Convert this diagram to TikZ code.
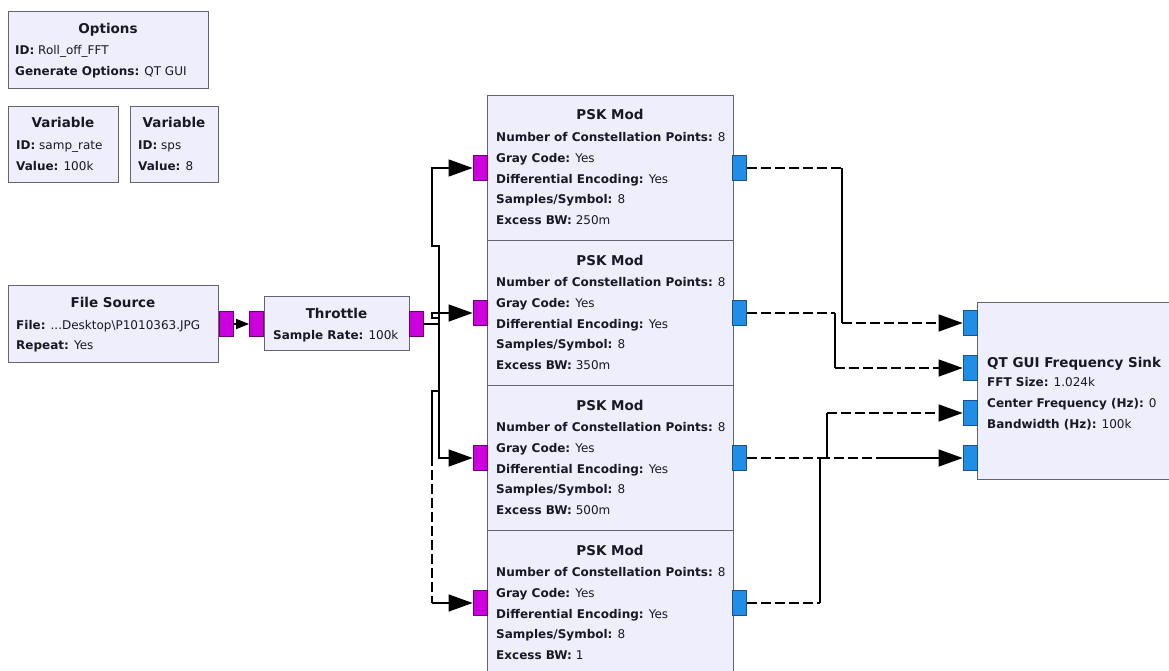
\documentclass[tikz,border=0pt]{standalone}
\usepackage{fontspec}
\setmainfont{DejaVu Sans}
\usetikzlibrary{arrows.meta}
\definecolor{blkfill}{RGB}{238,238,252}
\definecolor{blkdraw}{RGB}{100,100,110}
\definecolor{mag}{RGB}{204,0,222}
\definecolor{magd}{RGB}{110,0,120}
\definecolor{blu}{RGB}{32,142,230}
\definecolor{blud}{RGB}{30,80,140}
\definecolor{txt}{RGB}{25,25,35}
\newcommand{\plines}[1]{\begin{tabular}[t]{@{}l@{}}#1\end{tabular}}
\tikzset{
 blk/.style={draw=blkdraw, fill=blkfill, line width=1.1pt, inner sep=0, anchor=north west},
 ttl/.style={font=\fontsize{13.5}{16}\selectfont\bfseries, text=txt, anchor=base, inner sep=0},
 prm/.style={font=\fontsize{12}{20.8}\selectfont, text=txt, anchor=base west, inner sep=0},
 mport/.style={draw=magd, fill=mag, minimum width=14, minimum height=25, inner sep=0, line width=0.8pt},
 bport/.style={draw=blud, fill=blu, minimum width=14, minimum height=25, inner sep=0, line width=0.8pt},
 wire/.style={line width=1.2pt, black},
 dwire/.style={wire, dash pattern=on 10pt off 4pt},
 arr/.style={-{Triangle[length=24pt,width=17pt]}},
}
\begin{document}
\begin{tikzpicture}[x=1pt,y=-1pt]
\useasboundingbox (0,0) rectangle (1169,671);
\fill[white] (0,0) rectangle (1169,671);

% Options and variables
\node[blk, minimum width=200, minimum height=77] (opt) at (8,11) {};
\node[ttl] (optt) at (108,34) {Options};
\node[prm] (optp) at (15,55) {\plines{\textbf{ID:} Roll\_off\_FFT\\\textbf{Generate Options:} QT GUI}};

\node[blk, minimum width=110, minimum height=76] (v1) at (8,106) {};
\node[ttl] (v1t) at (63,128) {Variable};
\node[prm] (v1p) at (16,150) {\plines{\textbf{ID:} samp\_rate\\\textbf{Value:} 100k}};

\node[blk, minimum width=88, minimum height=76] (v2) at (130,106) {};
\node[ttl] (v2t) at (174,128) {Variable};
\node[prm] (v2p) at (138,150) {\plines{\textbf{ID:} sps\\\textbf{Value:} 8}};

% File source
\node[blk, minimum width=210, minimum height=77] (fs) at (8,285) {};
\node[ttl] (fst) at (113,307) {File Source};
\node[prm] (fsp) at (16,329) {\plines{\textbf{File:} ...Desktop\textbackslash P1010363.JPG\\\textbf{Repeat:} Yes}};
\node[mport] (fso) at (226,324) {};

% Throttle
\node[blk, minimum width=145, minimum height=54] (th) at (264,296) {};
\node[ttl] (tht) at (336.5,318) {Throttle};
\node[prm] (thp) at (273,339) {\textbf{Sample Rate:} 100k};
\node[mport] (thi) at (256.5,324) {};
\node[mport] (tho) at (416,324) {};

% PSK Mod blocks
\foreach \i/\bw/\h in {1/250m/145, 2/350m/145, 3/500m/145, 4/1/150} {
 \pgfmathsetmacro{\T}{95+145*(\i-1)}
 \node[blk, minimum width=246, minimum height=\h] (psk\i) at (487,\T) {};
 \node[ttl] (psk\i t) at (610,\T+25) {PSK Mod};
 \node[prm] (psk\i p) at (496,\T+46.5) {\plines{\textbf{Number of Constellation Points:} 8\\\textbf{Gray Code:} Yes\\\textbf{Differential Encoding:} Yes\\\textbf{Samples/Symbol:} 8\\\textbf{Excess BW:} \bw}};
 \node[mport] (p\i i) at (480,\T+73) {};
 \node[bport] (p\i o) at (739.5,\T+73) {};
}

% Sink
\node[blk, minimum width=200, minimum height=177] (sink) at (977,302) {};
\node[ttl, anchor=base west] (sinkt) at (987,367) {QT GUI Frequency Sink};
\node[prm, font=\fontsize{12}{21}\selectfont] (sinkp) at (987,386.5) {\plines{\textbf{FFT Size:} 1.024k\\\textbf{Center Frequency (Hz):} 0\\\textbf{Bandwidth (Hz):} 100k}};
\node[bport] (s1) at (970,323) {};
\node[bport] (s2) at (970,368) {};
\node[bport] (s3) at (970,413) {};
\node[bport] (s4) at (970,458) {};

% File source -> throttle
\draw[wire, -{Triangle[length=13pt,width=10pt]}] (fso.east) -- (thi.west);

% Throttle -> PSK mods
\coordinate (la) at (439,246);
\coordinate (lb) at (432,168);
\coordinate (lc) at (439,318);
\coordinate (ld) at (432,318);
\coordinate (le) at (439,458);
\coordinate (lf) at (439,391);
\coordinate (lg) at (432,391);
\coordinate (lh) at (432,456);
\coordinate (li) at (432,603);
\draw[wire, arr] (tho.east) -| (la) -| (lb) -- (p1i.west);
\draw[wire, arr] (tho.east) -| (lc) -- (ld) |- (p2i.west);
\draw[wire, arr] (tho.east) -| (le) -- (p3i.west);
\draw[wire] (tho.east) -| (lf) -- (lg) -- (lh);
\draw[dwire] (lh) -- (li);
\draw[wire, arr] (li) -- (p4i.west);

% PSK mods -> sink
\coordinate (r1a) at (842,168);
\coordinate (r1b) at (842,323);
\coordinate (r2a) at (835,313);
\coordinate (r2b) at (835,368);
\coordinate (r3a) at (827,458);
\coordinate (r3b) at (827,413);
\coordinate (r4a) at (820,603);
\coordinate (r4b) at (820,458);
\coordinate (r4c) at (880,458);
\draw[dwire] (p1o.east) -- (r1a);
\draw[wire] (r1a) -- (r1b);
\draw[dwire, arr] (r1b) -- (s1.west);
\draw[dwire] (p2o.east) -- (r2a);
\draw[wire] (r2a) -- (r2b);
\draw[dwire, arr] (r2b) -- (s2.west);
\draw[dwire] (p3o.east) -- (r3a);
\draw[wire] (r3a) -- (r3b);
\draw[dwire, arr] (r3b) -- (s3.west);
\draw[dwire] (p4o.east) -- (r4a);
\draw[wire] (r4a) -- (r4b);
\draw[dwire] (r4b) -- (r4c);
\draw[wire, arr] (r4c) -- (s4.west);
\end{tikzpicture}
\end{document}
